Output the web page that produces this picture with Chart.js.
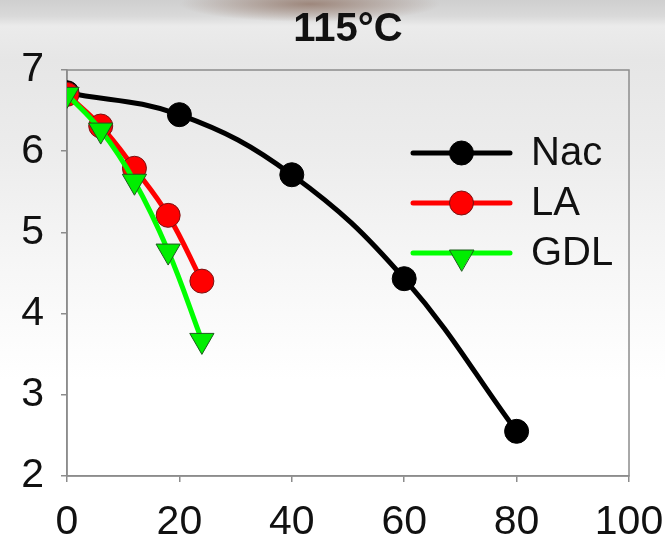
<!DOCTYPE html>
<html>
<head>
<meta charset="utf-8">
<script src="https://cdn.jsdelivr.net/npm/chart.js@4/dist/chart.umd.min.js"></script>
<style>
  html, body { margin: 0; padding: 0; }
  body {
    width: 665px; height: 542px; overflow: hidden;
    background:
      radial-gradient(ellipse 130px 18px at 310px 4px, rgba(140,110,95,0.75), rgba(160,130,115,0) 100%),
      linear-gradient(to bottom, #cfcfcf 0px, #d9d9d9 16px, #ebebeb 26px, #e6e6e6 60px, #ececec 150px, #f6f6f6 260px, #ffffff 380px, #ffffff 542px);
  }
  #wrap { position: relative; width: 665px; height: 542px; }
</style>
</head>
<body>
<div id="wrap"><canvas id="c" width="665" height="542"></canvas></div>
<script>
// Time (x) and log count (y) readings for each treatment at 115°C
const nacTime = [0, 20, 40, 60, 80];
const nacValues = [6.72, 6.45, 5.71, 4.43, 2.55];

const laTime = [0, 6, 12, 18, 24];
const laValues = [6.70, 6.31, 5.79, 5.21, 4.40];

const gdlTime = [0, 6, 12, 18, 24];
const gdlValues = [6.70, 6.26, 5.63, 4.77, 3.67];

const seriesNames = ['Nac', 'LA', 'GDL'];
const xTicks = [0, 20, 40, 60, 80, 100];
const yTicks = [2, 3, 4, 5, 6, 7];
const titleText = '115°C';

const pts = (xs, ys) => xs.map((x, i) => ({ x: x, y: ys[i] }));

const FONT = "'Liberation Sans', Arial, sans-serif";
const AXIS = '#8c8c8c';

// Outline around the plot area (top and right edges included)
const frame = {
  id: 'frame',
  beforeDatasetsDraw(chart) {
    const { ctx, chartArea: a } = chart;
    ctx.save();
    ctx.strokeStyle = AXIS;
    ctx.lineWidth = 1.5;
    ctx.strokeRect(a.left, a.top, a.right - a.left, a.bottom - a.top);
    ctx.restore();
  }
};

function marker(ctx, style, x, y, r, fill, stroke) {
  ctx.beginPath();
  if (style === 'triangle') {
    // downward pointing triangle
    for (let k = 0; k < 3; k++) {
      const ang = Math.PI + k * 2 * Math.PI / 3;
      const px = x + Math.sin(ang) * r;
      const py = y - Math.cos(ang) * r;
      if (k === 0) ctx.moveTo(px, py); else ctx.lineTo(px, py);
    }
    ctx.closePath();
  } else {
    ctx.arc(x, y, r, 0, Math.PI * 2);
  }
  ctx.fillStyle = fill;
  ctx.fill();
  ctx.lineWidth = 1;
  ctx.strokeStyle = stroke;
  ctx.stroke();
}

// Legend with a line sample and marker per series
const lineLegend = {
  id: 'lineLegend',
  afterDraw(chart) {
    const { ctx } = chart;
    const x0 = 413, x1 = 510, tx = 531, y0 = 153, step = 50;
    ctx.save();
    chart.data.datasets.forEach((ds, i) => {
      const y = y0 + i * step;
      ctx.beginPath();
      ctx.moveTo(x0, y);
      ctx.lineTo(x1, y);
      ctx.strokeStyle = ds.borderColor;
      ctx.lineWidth = 5;
      ctx.lineCap = 'round';
      ctx.stroke();
      const r = ds.pointStyle === 'triangle' ? 14 : 12;
      marker(ctx, ds.pointStyle, (x0 + x1) / 2, ds.pointStyle === 'triangle' ? y + 4 : y, r,
             ds.pointBackgroundColor, ds.pointBorderColor);
      ctx.fillStyle = '#111';
      ctx.font = '40px ' + FONT;
      ctx.textBaseline = 'middle';
      ctx.textAlign = 'left';
      ctx.fillText(ds.label, tx, y + 1);
    });
    ctx.restore();
  }
};

new Chart(document.getElementById('c'), {
  type: 'line',
  data: {
    datasets: [
      {
        label: seriesNames[0], data: pts(nacTime, nacValues), order: 3,
        borderColor: '#000000', borderWidth: 5, tension: 0.4,
        pointStyle: 'circle', pointRadius: 12, pointBackgroundColor: '#000000',
        pointBorderColor: '#000000', pointBorderWidth: 1
      },
      {
        label: seriesNames[1], data: pts(laTime, laValues), order: 2,
        borderColor: '#ff0000', borderWidth: 5, tension: 0.4,
        pointStyle: 'circle', pointRadius: 12, pointBackgroundColor: '#ff0000',
        pointBorderColor: '#7a1010', pointBorderWidth: 1
      },
      {
        label: seriesNames[2], data: pts(gdlTime, gdlValues), order: 1,
        borderColor: '#00ff00', borderWidth: 5, tension: 0.4,
        pointStyle: 'triangle', rotation: 180, pointRotation: 180, pointRadius: 14,
        pointBackgroundColor: '#00ee00', pointBorderColor: '#1d5a1d', pointBorderWidth: 1
      }
    ]
  },
  options: {
    responsive: false,
    animation: false,
    devicePixelRatio: 1,
    layout: { padding: { left: 0, right: 36, top: 0, bottom: 0 } },
    plugins: {
      legend: { display: false },
      tooltip: { enabled: false },
      title: {
        display: true, text: titleText, fullSize: false, color: '#111',
        font: { family: FONT, size: 40, weight: 'bold' },
        padding: { top: 6, bottom: 16 }
      }
    },
    scales: {
      x: {
        type: 'linear', min: 0, max: 100,
        afterBuildTicks: s => { s.ticks = xTicks.map(v => ({ value: v })); },
        afterFit: s => { s.height = 66; s.paddingLeft = 0; s.paddingRight = 0; },
        border: { display: true, color: AXIS, width: 1.5 },
        grid: { drawOnChartArea: false, drawTicks: true, tickLength: 6, color: AXIS, lineWidth: 1.5 },
        ticks: { color: '#111', padding: 16, maxRotation: 0, font: { family: FONT, size: 41 } }
      },
      y: {
        type: 'linear', min: 2, max: 7,
        afterBuildTicks: s => { s.ticks = yTicks.map(v => ({ value: v })); },
        afterFit: s => { s.width = 67; s.paddingTop = 0; s.paddingBottom = 0; },
        border: { display: true, color: AXIS, width: 1.5 },
        grid: { drawOnChartArea: false, drawTicks: true, tickLength: 6, color: AXIS, lineWidth: 1.5 },
        ticks: { color: '#111', padding: 17, font: { family: FONT, size: 41 } }
      }
    }
  },
  plugins: [frame, lineLegend]
});
</script>
</body>
</html>
